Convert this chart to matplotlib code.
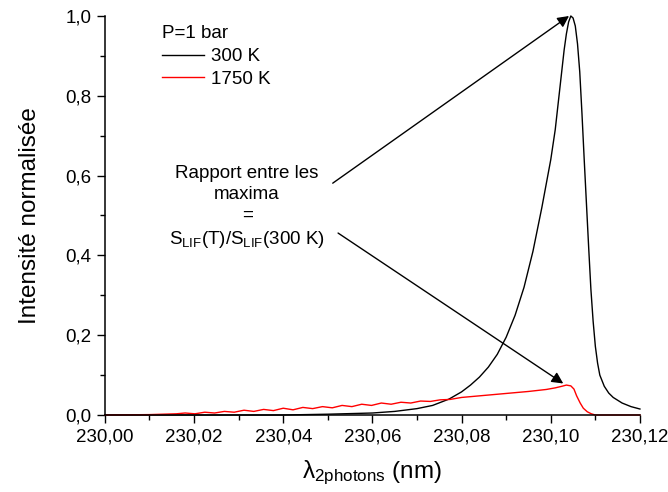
import matplotlib
matplotlib.use('Agg')
import matplotlib.pyplot as plt
from matplotlib.ticker import MultipleLocator, FuncFormatter

plt.rcParams['font.family'] = ['Liberation Sans', 'DejaVu Sans']
plt.rcParams['mathtext.fontset'] = 'custom'
plt.rcParams['mathtext.rm'] = 'Liberation Sans'
plt.rcParams['mathtext.it'] = 'Liberation Sans:italic'

# 300 K spectrum (black)
x_300 = [230.000, 230.040, 230.050, 230.060, 230.065, 230.070, 230.0735, 230.0772,
         230.080, 230.082, 230.084, 230.086, 230.088, 230.090, 230.092, 230.094,
         230.096, 230.098, 230.100, 230.101, 230.102, 230.103, 230.1035, 230.104,
         230.1045, 230.105, 230.1055, 230.106, 230.1065, 230.107, 230.1075, 230.108,
         230.1085, 230.109, 230.1095, 230.110, 230.1105, 230.111, 230.112, 230.113,
         230.114, 230.116, 230.118, 230.120]
y_300 = [0.000, 0.000, 0.002, 0.005, 0.009, 0.016, 0.024, 0.040,
         0.058, 0.075, 0.095, 0.120, 0.152, 0.195, 0.250, 0.320,
         0.410, 0.520, 0.640, 0.715, 0.815, 0.915, 0.955, 0.985,
         1.000, 0.995, 0.975, 0.930, 0.860, 0.755, 0.640, 0.530,
         0.420, 0.315, 0.235, 0.172, 0.130, 0.100, 0.072, 0.055,
         0.044, 0.030, 0.021, 0.015]

# 1750 K spectrum (red)
x_1750 = [230.000, 230.010, 230.016, 230.0180, 230.0202, 230.0224, 230.0246, 230.0268,
          230.0290, 230.0312, 230.0334, 230.0356, 230.0378, 230.0400, 230.0422, 230.0444,
          230.0466, 230.0488, 230.0510, 230.0532, 230.0554, 230.0576, 230.0598, 230.0620,
          230.0642, 230.0664, 230.0686, 230.0708, 230.0730, 230.0752, 230.0774, 230.0800,
          230.0850, 230.0900, 230.0950, 230.0990, 230.1010, 230.1025, 230.1035, 230.1045,
          230.1052, 230.1058, 230.1066, 230.1073, 230.1082, 230.1091, 230.1100, 230.1200]
y_1750 = [0.000, 0.001, 0.003, 0.005, 0.003, 0.007, 0.005, 0.009,
          0.007, 0.012, 0.009, 0.014, 0.011, 0.017, 0.013, 0.019,
          0.016, 0.021, 0.018, 0.024, 0.021, 0.027, 0.024, 0.030,
          0.027, 0.032, 0.030, 0.035, 0.034, 0.038, 0.039, 0.044,
          0.049, 0.054, 0.059, 0.064, 0.068, 0.072, 0.075, 0.073,
          0.065, 0.048, 0.030, 0.017, 0.008, 0.003, 0.000, 0.000]

fig = plt.figure(figsize=(6.68, 4.92), dpi=100)
ax = fig.add_axes([0.157, 0.1565, 0.801, 0.811])

ax.plot(x_300, y_300, color='black', lw=1.0, label='300 K', clip_on=False)
ax.plot(x_1750, y_1750, color='red', lw=1.0, label='1750 K', clip_on=False)

ax.set_xlim(230.00, 230.12)
ax.set_ylim(0, 1.0)

ax.spines['top'].set_visible(False)
ax.spines['right'].set_visible(False)
ax.spines['left'].set_linewidth(1.1)
ax.spines['bottom'].set_linewidth(1.1)

ax.xaxis.set_major_locator(MultipleLocator(0.02))
ax.xaxis.set_minor_locator(MultipleLocator(0.01))
ax.yaxis.set_major_locator(MultipleLocator(0.2))
ax.yaxis.set_minor_locator(MultipleLocator(0.1))
ax.xaxis.set_major_formatter(FuncFormatter(lambda v, p: f'{v:.2f}'.replace('.', ',')))
ax.yaxis.set_major_formatter(FuncFormatter(lambda v, p: f'{v:.1f}'.replace('.', ',')))
ax.tick_params(which='major', direction='out', length=6, width=1.0, labelsize=13.5)
ax.tick_params(which='minor', direction='out', length=3.5, width=1.0)

ax.set_ylabel('Intensité normalisée', fontsize=17.5, labelpad=18)
ax.set_xlabel('λ' + r'$_{\mathrm{2photons}}$ (nm)', fontsize=17.5, labelpad=10)

ax.legend(loc='upper left', bbox_to_anchor=(0.089, 1.0), frameon=False,
          title='P=1 bar', alignment='left', title_fontsize=13.5, fontsize=13.5,
          handlelength=2.25, handletextpad=0.35, borderpad=0, labelspacing=0.3)

ax.text(230.0319, 0.52,
        'Rapport entre les\nmaxima\n=\n' + r'S$_{\mathrm{LIF}}$(T)/S$_{\mathrm{LIF}}$(300 K)',
        ha='center', va='center', multialignment='center', fontsize=13.5, linespacing=1.3)

arrow = dict(arrowstyle='-|>', color='black', lw=1.0, mutation_scale=17, shrinkA=0, shrinkB=0)
ax.annotate('', xy=(230.1041, 1.0), xytext=(230.0511, 0.581), arrowprops=arrow)
ax.annotate('', xy=(230.1028, 0.079), xytext=(230.0523, 0.456), arrowprops=arrow)

fig.savefig('out.png', dpi=100)
